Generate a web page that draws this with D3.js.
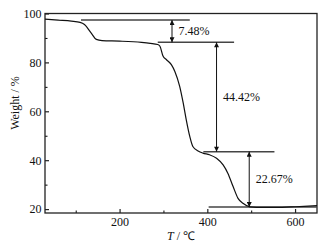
<!DOCTYPE html>
<html>
<head>
<meta charset="utf-8">
<script src="https://cdn.jsdelivr.net/npm/d3@7"></script>
<style>
  body { margin: 0; background: #fff; }
  text { font-family: "Liberation Serif", "Times New Roman", serif; fill: #111; }
</style>
</head>
<body>
<div id="chart"></div>
<script>
// TG curve
let temps = [30, 60, 90, 110, 120, 135, 147, 160, 200, 250, 270, 287, 292, 299, 307, 318, 326, 337, 345, 352,
  360, 367, 379, 390, 405, 421, 436, 447, 459, 470, 482, 497, 512, 550, 590, 620, 650];
let weights = [97.7, 97.3, 96.9, 96.4, 95.5, 92.1, 89.4, 88.9, 88.7, 88.2, 87.8, 87.3, 86.6, 82.6, 81.1, 79.1, 76.3, 70.2, 63.4, 56.5,
  49.7, 45.6, 43.8, 42.9, 42.2, 40.8, 38.1, 34.6, 29.1, 24.4, 22.3, 20.9, 20.7, 20.7, 20.9, 21.1, 21.4];

let xMajorTicks = [200, 400, 600];
let xMinorTicks = [100, 300, 500];
let yMajorTicks = [20, 40, 60, 80, 100];
let yMinorTicks = [30, 50, 70, 90];

// step annotation lines
let stepLevels = [97.3, 88.2, 43.5, 20.9];
let stepStarts = [112, 287, 391, 403];
let stepEnds = [360, 461, 553, 650];
let arrowTemps = [319.5, 421, 495.5];
let lossLabels = ['7.48%', '44.42%', '22.67%'];

let buildChart = function() {
  let W = 330, H = 247;
  let margin = {top: 13.5, right: 13, bottom: 34, left: 45};
  let width = W - margin.left - margin.right;
  let height = H - margin.top - margin.bottom;

  let svg = d3.select('#chart').append('svg')
    .attr('width', W).attr('height', H);

  let defs = svg.append('defs');
  defs.append('marker')
    .attr('id', 'arrow')
    .attr('markerUnits', 'userSpaceOnUse')
    .attr('viewBox', '0 0 10 10')
    .attr('refX', 10).attr('refY', 5)
    .attr('markerWidth', 7).attr('markerHeight', 5)
    .attr('orient', 'auto-start-reverse')
    .append('path')
    .attr('d', 'M0,0L10,5L0,10Z')
    .attr('fill', '#111');

  let g = svg.append('g')
    .attr('transform', `translate(${margin.left}, ${margin.top})`);

  let x = d3.scaleLinear().domain([30, 650]).range([0, width]);
  let y = d3.scaleLinear().domain([18.4, 100]).range([height, 0]);

  // minor ticks
  g.append('g').attr('transform', `translate(0, ${height})`)
    .call(d3.axisBottom(x).tickValues(xMinorTicks).tickSize(-2.5).tickFormat(''))
    .call(a => a.select('.domain').remove());
  g.append('g')
    .call(d3.axisLeft(y).tickValues(yMinorTicks).tickSize(-2.5).tickFormat(''))
    .call(a => a.select('.domain').remove());

  // major ticks
  let xAxis = g.append('g').attr('transform', `translate(0, ${height})`)
    .call(d3.axisBottom(x).tickValues(xMajorTicks).tickSize(-4).tickPadding(4));
  let yAxis = g.append('g')
    .call(d3.axisLeft(y).tickValues(yMajorTicks).tickSize(-4).tickPadding(3.5));
  [xAxis, yAxis].forEach(a => {
    a.select('.domain').remove();
    a.selectAll('text').attr('font-size', 12).attr('font-family', '"Liberation Serif", serif').attr('fill', '#111');
    a.selectAll('line').attr('stroke', '#222').attr('stroke-width', 1.2);
  });

  // frame
  g.append('rect')
    .attr('width', width).attr('height', height)
    .attr('fill', 'none').attr('stroke', '#222').attr('stroke-width', 1.3);

  // step lines
  stepLevels.forEach((lv, i) => {
    g.append('line')
      .attr('x1', x(stepStarts[i])).attr('x2', x(stepEnds[i]))
      .attr('y1', y(lv)).attr('y2', y(lv))
      .attr('stroke', '#444').attr('stroke-width', 1.5);
  });

  // double arrows
  arrowTemps.forEach((t, i) => {
    let y1 = y(stepLevels[i]), y2 = y(stepLevels[i + 1]);
    g.append('line')
      .attr('x1', x(t)).attr('x2', x(t))
      .attr('y1', y1).attr('y2', y2)
      .attr('stroke', '#111').attr('stroke-width', 1)
      .attr('marker-start', 'url(#arrow)')
      .attr('marker-end', 'url(#arrow)');
    g.append('text')
      .attr('x', x(t) + 6.5).attr('y', (y1 + y2) / 2)
      .attr('dominant-baseline', 'central')
      .attr('font-size', 12)
      .text(lossLabels[i]);
  });

  // TG curve
  let pts = temps.map((t, i) => [t, weights[i]]);
  g.append('path')
    .datum(pts)
    .attr('fill', 'none')
    .attr('stroke', '#111')
    .attr('stroke-width', 1.2)
    .attr('d', d3.line().x(d => x(d[0])).y(d => y(d[1])).curve(d3.curveMonotoneX));

  // axis titles
  let xt = svg.append('text')
    .attr('x', margin.left + width / 2).attr('y', 240)
    .attr('text-anchor', 'middle').attr('font-size', 12);
  xt.append('tspan').attr('font-style', 'italic').text('T');
  xt.append('tspan').text(' / ℃');

  svg.append('text')
    .attr('transform', `translate(15, 103) rotate(-90)`)
    .attr('text-anchor', 'middle')
    .attr('dominant-baseline', 'central')
    .attr('font-size', 12)
    .text('Weight / %');
};

buildChart();
</script>
</body>
</html>
